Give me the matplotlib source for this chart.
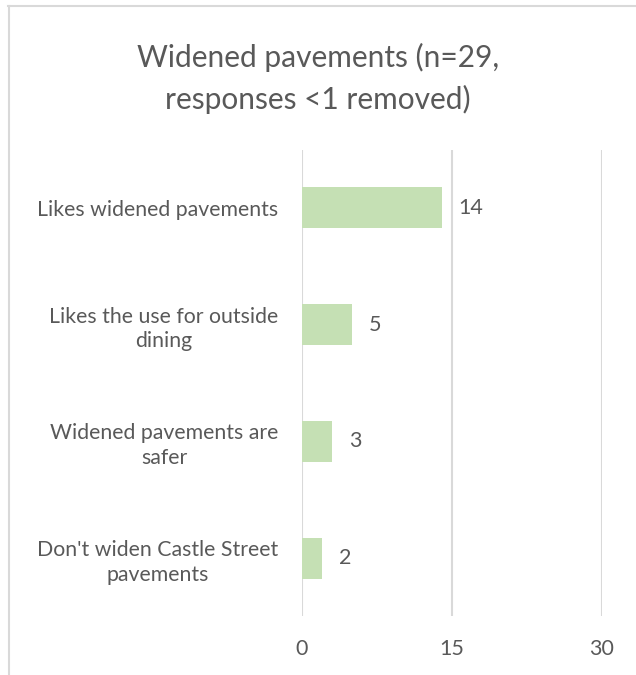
import matplotlib
matplotlib.use("Agg")
import matplotlib.pyplot as plt
from matplotlib.lines import Line2D

categories = [
    "Likes widened pavements",
    "Likes the use for outside\ndining",
    "Widened pavements are\nsafer",
    "Don't widen Castle Street\npavements",
]
counts = [14, 5, 3, 2]
xticks = [0, 15, 30]

text_grey = "#595959"
bar_green = "#c5e0b4"
grid_grey = "#d9d9d9"

plt.rcParams["font.family"] = ["Lato", "DejaVu Sans"]

fig = plt.figure(figsize=(6.36, 6.75), dpi=100)
ax = fig.add_axes([0.4748, 0.0867, 0.4717, 0.6918])

y = list(range(len(categories)))
ax.barh(y, counts, height=0.35, color=bar_green, zorder=2)
ax.set_ylim(len(categories) - 0.5, -0.5)
ax.set_xlim(0, 30)
ax.set_xticks(xticks)
ax.set_yticks(y)
ax.set_yticklabels(categories, multialignment="center", linespacing=1.3)
ax.tick_params(axis="y", length=0, pad=17, labelsize=15.3, labelcolor=text_grey)
ax.tick_params(axis="x", length=0, pad=16, labelsize=15.5, labelcolor=text_grey)
ax.grid(axis="x", color=grid_grey, linewidth=1.5, zorder=0)
for side in ax.spines.values():
    side.set_visible(False)

for yi, v in zip(y, counts):
    ax.annotate(str(v), (v, yi), xytext=(12, 0), textcoords="offset points",
                va="center", ha="left", fontsize=15.5, color=text_grey)

fig.text(0.5, 0.884, "Widened pavements (n=29,\nresponses <1 removed)",
         ha="center", va="center", fontsize=21.5, color=text_grey,
         linespacing=1.55)

# chart frame
fig.add_artist(Line2D([8 / 636, 1], [1 - 5.5 / 675] * 2, color=grid_grey,
                      linewidth=1.5, transform=fig.transFigure))
fig.add_artist(Line2D([8.5 / 636] * 2, [0, 1 - 5.5 / 675], color=grid_grey,
                      linewidth=1.5, transform=fig.transFigure))

fig.savefig("out.png", dpi=100)
